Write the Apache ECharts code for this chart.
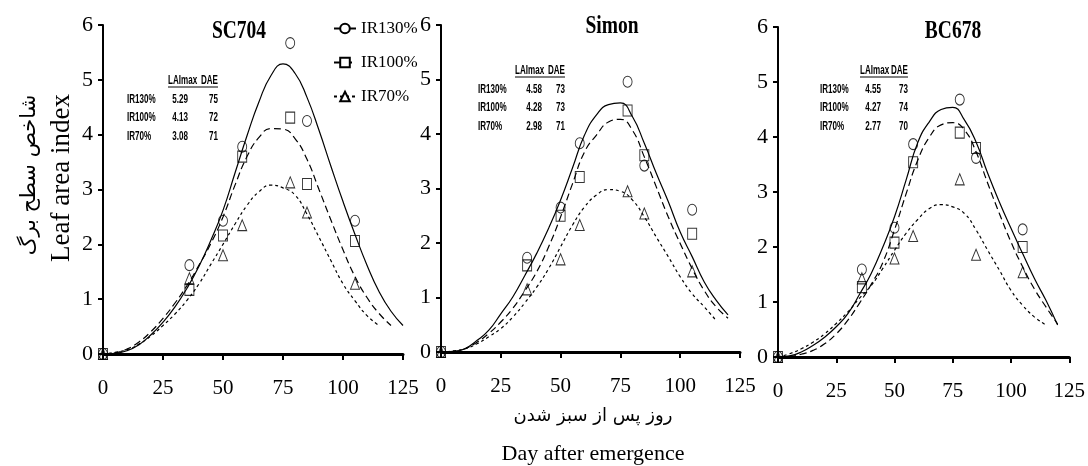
<!DOCTYPE html>
<html>
<head>
<meta charset="utf-8">
<script src="https://cdn.jsdelivr.net/npm/echarts@6/dist/echarts.min.js"></script>
<style>
  html, body { margin: 0; padding: 0; background: #fff; }
  #chart { width: 1088px; height: 466px; }
</style>
</head>
<body>
<div id="chart"></div>
<script>
// 处理水平
const treatments = ['IR130%', 'IR100%', 'IR70%']
const cultivars = ['SC704', 'Simon', 'BC678']

// 实测点 (出苗后天数)
const sampleDays = [0, 36, 50, 58, 78, 85, 105]
const sc704Ir130 = [0, 1.62, 2.43, 3.78, 5.67, 4.25, 2.43]
const sc704Ir100 = [0, 1.17, 2.16, 3.60, 4.31, 3.10, 2.06]
const sc704Ir70 = [0, 1.38, 1.80, 2.35, 3.13, 2.58, 1.28]
const simonIr130 = [0, 1.73, 2.65, 3.83, 4.96, 3.42, 2.61]
const simonIr100 = [0, 1.59, 2.50, 3.21, 4.43, 3.61, 2.17]
const simonIr70 = [0, 1.15, 1.70, 2.33, 2.95, 2.54, 1.48]
const bc678Ir130 = [0, 1.59, 2.35, 3.87, 4.68, 3.62, 2.32]
const bc678Ir100 = [0, 1.27, 2.08, 3.54, 4.08, 3.80, 2.00]
const bc678Ir70 = [0, 1.43, 1.79, 2.20, 3.23, 1.86, 1.54]

// 拟合曲线 (读自原图, 每5天)
const fitDays = [0, 5, 10, 15, 20, 25, 30, 35, 40, 45, 50, 55, 60, 65, 70, 75, 80, 85, 90, 95, 100, 105, 110, 115, 120, 125]
const sc704Ir130Fit = [0, 0.01, 0.06, 0.17, 0.35, 0.58, 0.86, 1.2, 1.6, 2.08, 2.62, 3.3, 3.98, 4.6, 5.08, 5.29, 5.12, 4.68, 4.08, 3.42, 2.78, 2.18, 1.62, 1.14, 0.78, 0.52]
const sc704Ir100Fit = [0, 0.02, 0.09, 0.22, 0.41, 0.65, 0.93, 1.25, 1.62, 2.02, 2.5, 3.08, 3.6, 3.95, 4.11, 4.1, 3.93, 3.55, 3.0, 2.44, 1.9, 1.41, 1.03, 0.74, 0.52, null]
const sc704Ir70Fit = [0, 0.03, 0.08, 0.18, 0.33, 0.52, 0.73, 0.98, 1.28, 1.64, 2.0, 2.37, 2.71, 2.96, 3.08, 3.03, 2.9, 2.55, 2.13, 1.7, 1.28, 0.97, 0.7, 0.52, null, null]
const simonIr130Fit = [0, 0.01, 0.06, 0.21, 0.4, 0.7, 1.01, 1.4, 1.81, 2.27, 2.79, 3.38, 3.98, 4.35, 4.54, 4.57, 4.32, 3.83, 3.28, 2.76, 2.2, 1.75, 1.29, 0.95, 0.68, null]
const simonIr100Fit = [0, 0.01, 0.06, 0.18, 0.34, 0.55, 0.8, 1.12, 1.47, 1.93, 2.48, 3.09, 3.67, 3.98, 4.22, 4.27, 4.07, 3.58, 3.03, 2.48, 1.99, 1.53, 1.13, 0.83, 0.62, null]
const simonIr70Fit = [0, 0.02, 0.06, 0.15, 0.28, 0.43, 0.64, 0.9, 1.19, 1.53, 1.93, 2.33, 2.66, 2.88, 2.98, 2.95, 2.79, 2.48, 2.11, 1.75, 1.38, 1.07, 0.83, 0.58, null, null]
const bc678Ir130Fit = [0, 0.02, 0.09, 0.21, 0.36, 0.55, 0.79, 1.14, 1.52, 2.0, 2.55, 3.22, 3.9, 4.28, 4.5, 4.54, 4.31, 3.91, 3.34, 2.82, 2.34, 1.88, 1.43, 1.03, 0.58, null]
const bc678Ir100Fit = [0, 0.01, 0.05, 0.12, 0.24, 0.42, 0.67, 0.98, 1.32, 1.72, 2.31, 2.97, 3.58, 4.0, 4.22, 4.26, 4.13, 3.73, 3.16, 2.61, 2.09, 1.64, 1.24, 0.91, 0.6, null]
const bc678Ir70Fit = [0, 0.06, 0.15, 0.27, 0.42, 0.61, 0.82, 1.07, 1.3, 1.61, 1.94, 2.25, 2.5, 2.7, 2.77, 2.73, 2.61, 2.31, 1.94, 1.58, 1.21, 0.94, 0.73, 0.58, null, null]

// 表格: LAImax 与 DAE
const laiMax = [['5.29', '4.13', '3.08'], ['4.58', '4.28', '2.98'], ['4.55', '4.27', '2.77']]
const daeMax = [['75', '72', '71'], ['73', '73', '71'], ['73', '74', '70']]

const xTicks = [0, 25, 50, 75, 100, 125]
const yTicks = [0, 1, 2, 3, 4, 5, 6]

const observed = [
  [sc704Ir130, sc704Ir100, sc704Ir70],
  [simonIr130, simonIr100, simonIr70],
  [bc678Ir130, bc678Ir100, bc678Ir70]
]
const fitted = [
  [sc704Ir130Fit, sc704Ir100Fit, sc704Ir70Fit],
  [simonIr130Fit, simonIr100Fit, simonIr70Fit],
  [bc678Ir130Fit, bc678Ir100Fit, bc678Ir70Fit]
]

const serif = 'Liberation Serif, Times New Roman, serif'
const sans = 'Liberation Sans, Arial, sans-serif'
const grids = [
  { left: 103, top: 25, width: 300, height: 329 },
  { left: 441, top: 25, width: 299, height: 327 },
  { left: 778, top: 27, width: 298, height: 330 }
]
const lineTypes = ['solid', [7, 4], [3, 3]]
const symbols = ['circle', 'rect', 'triangle']

const chart = echarts.init(document.getElementById('chart'))

const xAxes = grids.map((g, i) => ({
  type: 'value', gridIndex: i,
  min: xTicks[0], max: xTicks[xTicks.length - 1], interval: 25,
  splitLine: { show: false },
  axisLine: { onZero: false, lineStyle: { color: '#000', width: 3 } },
  axisTick: { length: 6, lineStyle: { color: '#000', width: 2 } },
  axisLabel: { color: '#000', fontFamily: serif, fontSize: 21, margin: 24 }
}))
const yAxes = grids.map((g, i) => ({
  type: 'value', gridIndex: i,
  min: yTicks[0], max: yTicks[yTicks.length - 1], interval: 1,
  splitLine: { show: false },
  axisLine: { show: true, lineStyle: { color: '#000', width: 2 } },
  axisTick: { show: true, length: 5, lineStyle: { color: '#000', width: 2 } },
  axisLabel: { color: '#000', fontFamily: serif, fontSize: 22, margin: 10 }
}))

const series = []
// 图例用空系列
treatments.forEach((t, k) => {
  series.push({
    name: t, type: 'line', xAxisIndex: 0, yAxisIndex: 0, data: [],
    symbol: symbols[k], symbolSize: 8,
    itemStyle: { color: '#fff', borderColor: '#000', borderWidth: 1 },
    lineStyle: { color: '#000', width: 1.2, type: lineTypes[k] }
  })
})
cultivars.forEach((c, i) => {
  treatments.forEach((t, k) => {
    series.push({
      type: 'line', xAxisIndex: i, yAxisIndex: i,
      data: fitDays.map((d, j) => [d, fitted[i][k][j]]).filter(p => p[1] !== null),
      showSymbol: false, smooth: true, silent: true,
      lineStyle: { color: '#000', width: 1.2, type: lineTypes[k] },
      z: 2
    })
    series.push({
      type: 'scatter', xAxisIndex: i, yAxisIndex: i,
      data: sampleDays.map((d, j) => [d, observed[i][k][j]]),
      symbol: symbols[k], symbolSize: [9, 11],
      itemStyle: { color: 'rgba(255,255,255,0)', borderColor: '#000', borderWidth: 1 },
      z: 3
    })
  })
})

// 压窄的文字
function narrowText(x, y, text, font, align, sx) {
  return {
    type: 'text', x: x, y: y, scaleX: sx,
    style: { text: text, font: font, fill: '#000', textAlign: align, textVerticalAlign: 'middle' }
  }
}

// 插入表格文字
const tablePos = [
  { x: 127, y: 80, hx: 168, vx: 188, dx: 218 },
  { x: 478, y: 70, hx: 515, vx: 542, dx: 565 },
  { x: 820, y: 70, hx: 860, vx: 881, dx: 908 }
]
const graphics = []
const tFont = 'bold 13px ' + sans
const tScale = 0.62
tablePos.forEach((p, i) => {
  graphics.push(narrowText(p.hx, p.y, 'LAImax', tFont, 'left', tScale))
  graphics.push(narrowText(p.dx, p.y, 'DAE', tFont, 'right', tScale))
  graphics.push({ type: 'line', shape: { x1: p.hx, y1: p.y + 7, x2: p.dx, y2: p.y + 7 }, style: { stroke: '#000', lineWidth: 1 } })
  treatments.forEach((t, k) => {
    const yy = p.y + 19 + k * 18.5
    graphics.push(narrowText(p.x, yy, t, tFont, 'left', tScale))
    graphics.push(narrowText(p.vx, yy, laiMax[i][k], tFont, 'right', tScale))
    graphics.push(narrowText(p.dx, yy, daeMax[i][k], tFont, 'right', tScale))
  })
})
// 标题
const titlePos = [[239, 32], [612, 27], [953, 32]]
cultivars.forEach((c, i) => {
  graphics.push(narrowText(titlePos[i][0], titlePos[i][1], c, 'bold 25px ' + serif, 'center', 0.78))
})
// 坐标轴标题
graphics.push({ type: 'text', x: 62, y: 178, rotation: Math.PI / 2, style: { text: 'Leaf area index', font: '27px ' + serif, fill: '#000', textAlign: 'center', textVerticalAlign: 'middle' } })
graphics.push({ type: 'text', x: 30, y: 175, rotation: Math.PI / 2, style: { text: 'شاخص سطح برگ', font: '21px DejaVu Sans, sans-serif', fill: '#000', textAlign: 'center', textVerticalAlign: 'middle' } })
graphics.push({ type: 'text', x: 593, y: 416, style: { text: 'روز پس از سبز شدن', font: '18px DejaVu Sans, sans-serif', fill: '#000', textAlign: 'center', textVerticalAlign: 'middle' } })
graphics.push({ type: 'text', x: 593, y: 454, style: { text: 'Day after emergence', font: '22px ' + serif, fill: '#000', textAlign: 'center', textVerticalAlign: 'middle' } })

const option = {
  animation: false,
  backgroundColor: '#fff',
  legend: {
    data: treatments, orient: 'vertical', left: 328, top: 15,
    itemWidth: 22, itemHeight: 12, itemGap: 17,
    textStyle: { fontFamily: serif, fontSize: 17, color: '#000' }
  },
  grid: grids,
  xAxis: xAxes,
  yAxis: yAxes,
  series: series,
  graphic: graphics
}

chart.setOption(option)
</script>
</body>
</html>
